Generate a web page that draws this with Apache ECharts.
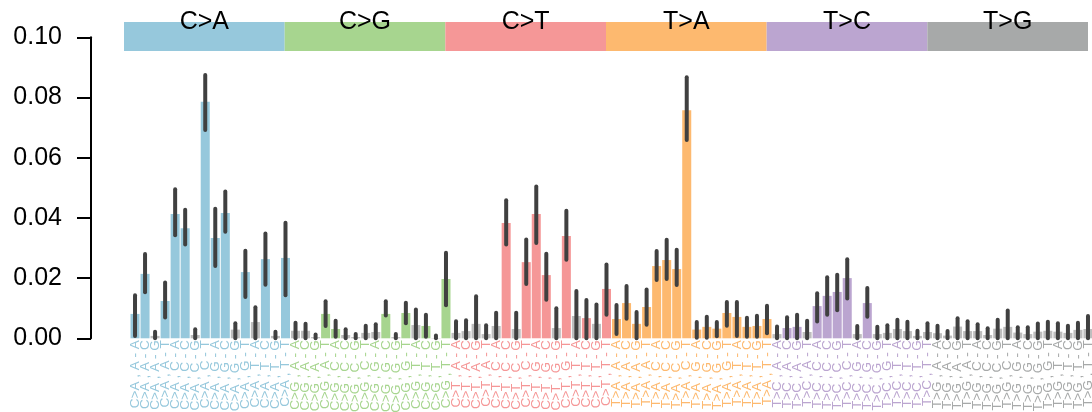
<!DOCTYPE html>
<html>
<head>
<meta charset="utf-8">
<script src="https://cdn.jsdelivr.net/npm/echarts@6/dist/echarts.min.js"></script>
<style>html,body{margin:0;padding:0;background:#fff}#c{width:1092px;height:412px}</style>
</head>
<body>
<div id="c"></div>
<script>
// ---- data ----
var substitutions = ['C>A', 'C>G', 'C>T', 'T>A', 'T>C', 'T>G'];
var bases = ['A', 'C', 'G', 'T'];
var groupColors = ['#96C8DC', '#A7D58F', '#F59797', '#FDB96F', '#BBA5D0', '#A7A9A9'];
var greyBar = '#BEBEBE';

var valCA = [0.0081,0.0214,0.0008,0.0124,0.0413,0.0366,0.0011,0.0786,0.0333,0.0416,0.0029,0.0220,0.0054,0.0263,0.0008,0.0267];
var lowCA = [0.0008,0.0153,0,0.0069,0.0342,0.0312,0,0.0692,0.0240,0.0354,0,0.0137,0,0.0178,0,0.0143];
var highCA = [0.0143,0.0280,0.0022,0.0185,0.0495,0.0427,0.0030,0.0875,0.0430,0.0488,0.0050,0.0291,0.0103,0.0348,0.0022,0.0384];
var greyCA = [0,0,1,0,0,0,1,0,0,0,1,0,1,0,1,0];

var valCG = [0.0025,0.0025,0.0004,0.0081,0.0031,0.0011,0.0004,0.0018,0.0021,0.0081,0.0004,0.0084,0.0044,0.0041,0.0001,0.0197];
var lowCG = [0,0,0,0.0041,0.0005,0,0,0,0,0.0076,0,0.0050,0,0.0005,0,0.0110];
var highCG = [0.0052,0.0048,0.0013,0.0123,0.0058,0.0030,0.0014,0.0042,0.0047,0.0123,0.0014,0.0118,0.0096,0.0078,0.0009,0.0284];
var greyCG = [1,1,1,0,0,1,1,1,1,0,1,0,1,0,1,0];

var valCT = [0.0018,0.0024,0.0048,0.0014,0.0041,0.0383,0.0031,0.0253,0.0413,0.0210,0.0034,0.0340,0.0074,0.0067,0.0048,0.0164];
var lowCT = [0,0,0,0,0,0.0312,0,0.0180,0.0317,0.0128,0,0.0261,0,0,0,0.0078];
var highCT = [0.0057,0.0060,0.0140,0.0043,0.0085,0.0459,0.0085,0.0328,0.0504,0.0281,0.0100,0.0424,0.0157,0.0127,0.0112,0.0245];
var greyCT = [1,1,1,1,1,0,1,0,0,0,1,0,1,0,1,0];

var valTA = [0.0064,0.0117,0.0048,0.0104,0.0240,0.0260,0.0230,0.0758,0.0029,0.0038,0.0032,0.0084,0.0071,0.0038,0.0041,0.0064];
var lowTA = [0.0014,0.0065,0,0.0045,0.0194,0.0197,0.0177,0.0659,0.0002,0.0002,0.0007,0.0042,0.0008,0.0005,0.0005,0.0017];
var highTA = [0.0111,0.0174,0.0087,0.0162,0.0290,0.0327,0.0294,0.0867,0.0054,0.0072,0.0054,0.0121,0.0121,0.0068,0.0075,0.0108];
var greyTA = [0,0,0,0,0,0,0,0,0,0,0,0,0,0,0,0];

var valTC = [0.0014,0.0034,0.0038,0.0021,0.0107,0.0141,0.0154,0.0200,0.0014,0.0117,0.0014,0.0018,0.0031,0.0024,0.0008,0.0021];
var lowTC = [0,0,0,0,0.0056,0.0078,0.0093,0.0132,0,0.0072,0,0,0,0,0,0];
var highTC = [0.0039,0.0070,0.0078,0.0058,0.0150,0.0203,0.0211,0.0263,0.0041,0.0167,0.0038,0.0043,0.0062,0.0055,0.0025,0.0050];
var greyTC = [1,0,0,1,0,0,0,0,1,0,1,1,1,1,1,1];

var valTG = [0.0017,0.0009,0.0039,0.0024,0.0024,0.0011,0.0032,0.0038,0.0019,0.0014,0.0022,0.0025,0.0022,0.0018,0.0028,0.0031];
var lowTG = [0,0,0,0,0,0,0,0,0,0,0,0,0,0,0,0];
var highTG = [0.0042,0.0024,0.0067,0.0057,0.0047,0.0033,0.0062,0.0092,0.0037,0.0037,0.0049,0.0055,0.0050,0.0042,0.0052,0.0074];
var greyTG = [1,1,1,1,1,1,1,1,1,1,1,1,1,1,1,1];

var yTicks = [0, 0.02, 0.04, 0.06, 0.08, 0.10];

// ---- build ----
var vals = [valCA, valCG, valCT, valTA, valTC, valTG];
var lows = [lowCA, lowCG, lowCT, lowTA, lowTC, lowTG];
var highs = [highCA, highCG, highCT, highTA, highTC, highTG];
var greys = [greyCA, greyCG, greyCT, greyTA, greyTC, greyTG];

var categories = [], labelColors = [], barData = [], errData = [];
substitutions.forEach(function (s, g) {
  var k = 0;
  bases.forEach(function (five) {
    bases.forEach(function (three) {
      var idx = categories.length;
      categories.push(s + ' , ' + five + ' - ' + three);
      labelColors.push(groupColors[g]);
      barData.push({ value: vals[g][k], itemStyle: { color: greys[g][k] ? greyBar : groupColors[g] } });
      errData.push([idx, lows[g][k], highs[g][k]]);
      k++;
    });
  });
});

var chart = echarts.init(document.getElementById('c'), null, { renderer: 'canvas' });
var FONT = 'Liberation Sans, Arial, Helvetica, sans-serif';
chart.setOption({
  animation: false,
  backgroundColor: '#ffffff',
  textStyle: { fontFamily: FONT },
  grid: [
    { left: 130, right: -1, top: 37.3, bottom: 73.7, outerBoundsMode: 'none' },
    { left: 124, right: 4, top: 22, height: 29, outerBoundsMode: 'none' }
  ],
  xAxis: [
    {
      type: 'category', gridIndex: 0, data: categories,
      axisLine: { show: false }, axisTick: { show: false },
      axisLabel: {
        interval: 0, rotate: 90, margin: 2, fontSize: 13.5, fontFamily: FONT,
        color: function (v, i) { return labelColors[i]; }
      }
    },
    { type: 'category', gridIndex: 1, data: substitutions, show: false }
  ],
  yAxis: [
    {
      type: 'value', gridIndex: 0, min: 0, max: 0.1, interval: 0.02, offset: 39,
      splitLine: { show: false },
      axisLine: { show: true, lineStyle: { color: '#000', width: 2 } },
      axisTick: { show: true, length: 14, lineStyle: { color: '#000', width: 2 } },
      axisLabel: {
        margin: 29, fontSize: 25, color: '#000', fontFamily: FONT,
        formatter: function (v) { return v.toFixed(2); }
      }
    },
    { type: 'value', gridIndex: 1, min: 0, max: 1, show: false }
  ],
  series: [
    {
      type: 'bar', xAxisIndex: 1, yAxisIndex: 1, barCategoryGap: 0,
      data: substitutions.map(function (s, g) { return { value: 1, itemStyle: { color: groupColors[g] } }; }),
      label: {
        show: true, formatter: '{b}', position: ['50%', 0], align: 'center', verticalAlign: 'middle',
        offset: [0, 0], fontSize: 25, color: '#000', fontFamily: FONT
      },
      silent: true
    },
    {
      type: 'bar', xAxisIndex: 0, yAxisIndex: 0, barCategoryGap: '10%',
      data: barData
    },
    {
      type: 'custom', xAxisIndex: 0, yAxisIndex: 0, z: 5,
      data: errData,
      renderItem: function (params, api) {
        var p1 = api.coord([api.value(0), api.value(1)]);
        var p2 = api.coord([api.value(0), api.value(2)]);
        return {
          type: 'line',
          shape: { x1: p1[0], y1: p1[1], x2: p2[0], y2: p2[1] },
          style: { stroke: '#404040', lineWidth: 4, lineCap: 'round' }
        };
      }
    }
  ]
});
</script>
</body>
</html>
